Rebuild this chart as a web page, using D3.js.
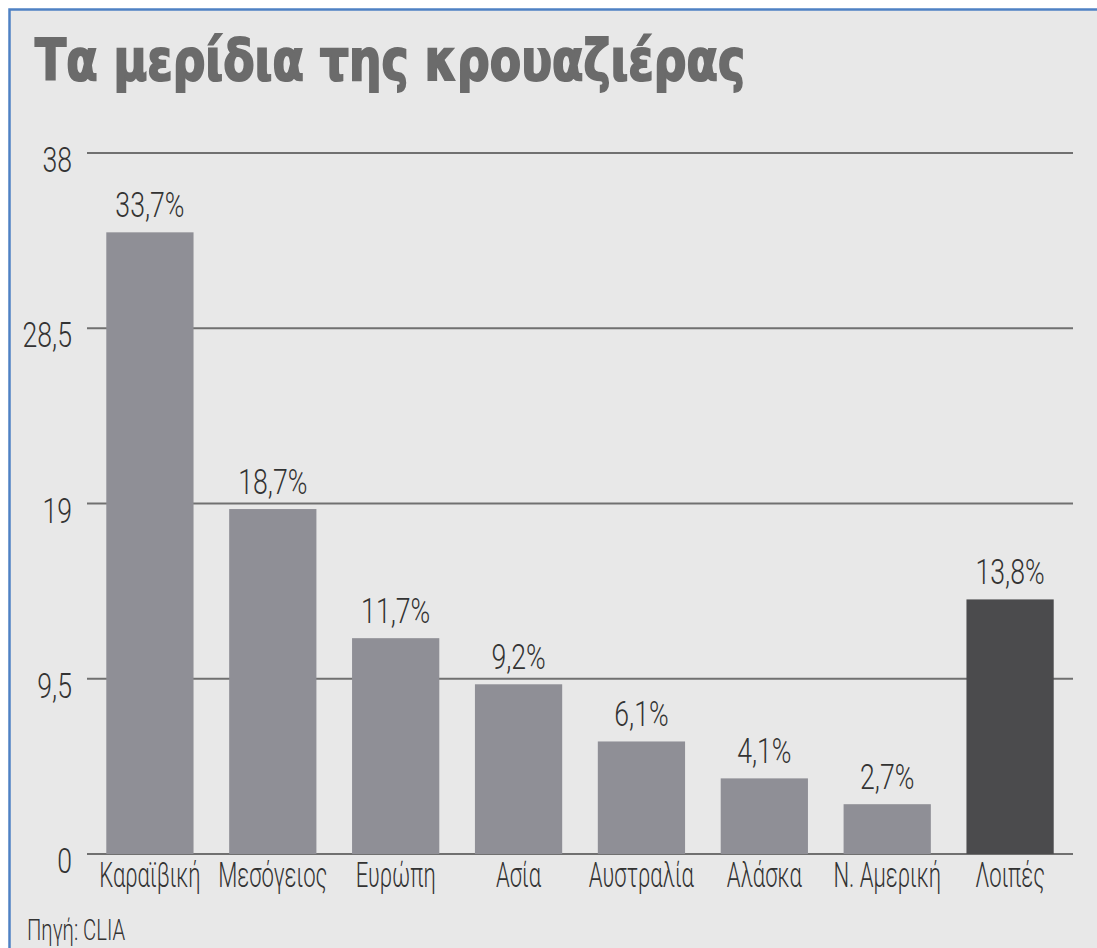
<!DOCTYPE html>
<html>
<head>
<meta charset="utf-8">
<script src="https://cdn.jsdelivr.net/npm/d3@7"></script>
<style>
  html, body { margin: 0; padding: 0; background: #ffffff; }
  svg { display: block; }
</style>
</head>
<body>
<div id="chart"></div>
<script>
const categories = ["Καραϊβική", "Μεσόγειος", "Ευρώπη", "Ασία", "Αυστραλία", "Αλάσκα", "Ν. Αμερική", "Λοιπές"]
const shares = [33.7, 18.7, 11.7, 9.2, 6.1, 4.1, 2.7, 13.8]
const shareLabels = ["33,7%", "18,7%", "11,7%", "9,2%", "6,1%", "4,1%", "2,7%", "13,8%"]
const tickValues = [0, 9.5, 19, 28.5, 38]
const tickLabels = ["0", "9,5", "19", "28,5", "38"]

const width = 1097,
height = 948;

const font = "Roboto, 'Open Sans', sans-serif"
const sx = 0.74

const svg = d3.select("#chart")
.append("svg")
.attr("width", width)
.attr("height", height)

svg.append("rect")
.attr("x", 9)
.attr("y", 9)
.attr("width", width - 9)
.attr("height", height - 9)
.attr("fill", "#e8e8e8")

// blue frame, only top and left
svg.append("path")
.attr("d", `M9.5,${height} V9.5 H${width + 5}`)
.attr("fill", "none")
.attr("stroke", "#4f81c4")
.attr("stroke-width", 2.5)

svg.append("text")
.attr("x", 35)
.attr("y", 80)
.attr("textLength", 710)
.attr("lengthAdjust", "spacingAndGlyphs")
.style("font-family", "'DejaVu Sans', sans-serif")
.style("font-weight", "bold")
.style("font-size", "57px")
.attr("fill", "#6b6b6b")
.attr("stroke", "#6b6b6b")
.attr("stroke-width", 2)
.text("Τα μερίδια της κρουαζιέρας")

const x = d3.scaleBand()
.domain(categories)
.range([94, 1066])
.paddingInner(0.29)
.paddingOuter(0.1)

const y = d3.scaleLinear()
.domain([0, 38])
.range([854, 153])

svg.selectAll("line.grid")
.data(tickValues)
.join("line")
.attr("class", "grid")
.attr("x1", 87)
.attr("x2", 1073)
.attr("y1", d => y(d))
.attr("y2", d => y(d))
.attr("stroke", "#707070")
.attr("stroke-width", 2)

svg.selectAll("text.tick")
.data(tickValues)
.join("text")
.attr("class", "tick")
.attr("transform", d => `translate(72,${y(d) + 19}) scale(${sx},1)`)
.attr("text-anchor", "end")
.style("font-family", font)
.style("font-size", "36px")
.style("font-weight", 300)
.attr("fill", "#333333")
.text((d, i) => tickLabels[i])

const rows = categories.map((c, i) => ({ cat: c, value: shares[i], label: shareLabels[i] }))

svg.selectAll("rect.bar")
.data(rows)
.join("rect")
.attr("class", "bar")
.attr("x", d => x(d.cat))
.attr("width", x.bandwidth())
.attr("y", d => y(d.value))
.attr("height", d => y(0) - y(d.value))
.attr("fill", (d, i) => i === rows.length - 1 ? "#4b4b4d" : "#8f8f96")

svg.selectAll("text.value")
.data(rows)
.join("text")
.attr("class", "value")
.attr("transform", d => `translate(${x(d.cat) + x.bandwidth() / 2},${y(d.value) - 15}) scale(${sx},1)`)
.attr("text-anchor", "middle")
.style("font-family", font)
.style("font-size", "36px")
.style("font-weight", 300)
.attr("fill", "#333333")
.text(d => d.label)

svg.selectAll("text.cat")
.data(categories)
.join("text")
.attr("class", "cat")
.attr("transform", d => `translate(${x(d) + x.bandwidth() / 2},887) scale(0.63,1)`)
.attr("text-anchor", "middle")
.style("font-family", font)
.style("font-size", "35px")
.style("font-weight", 300)
.attr("fill", "#333333")
.text(d => d)

svg.append("text")
.attr("transform", `translate(27,940) scale(0.7,1)`)
.style("font-family", font)
.style("font-size", "29px")
.style("font-weight", 300)
.attr("fill", "#333333")
.text("Πηγή: CLIA")
</script>
</body>
</html>
